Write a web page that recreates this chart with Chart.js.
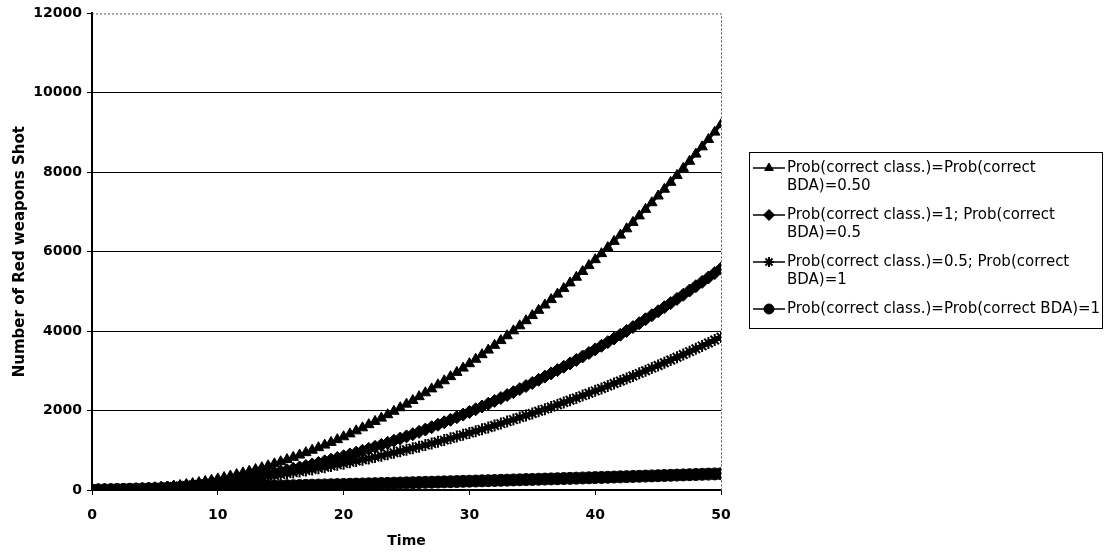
<!DOCTYPE html>
<html>
<head>
<meta charset="utf-8">
<title>Number of Red weapons Shot</title>
<script src="https://cdn.jsdelivr.net/npm/chart.js"></script>
<style>
  body { margin: 0; background: #fff; }
  canvas { display: block; }
</style>
</head>
<body>
<canvas id="chart" width="1115" height="554"></canvas>
<script>
// time steps (0.5 apart)
var times = [0,0.5,1,1.5,2,2.5,3,3.5,4,4.5,5,5.5,6,6.5,7,7.5,8,8.5,9,9.5,
  10,10.5,11,11.5,12,12.5,13,13.5,14,14.5,15,15.5,16,16.5,17,17.5,18,18.5,19,19.5,
  20,20.5,21,21.5,22,22.5,23,23.5,24,24.5,25,25.5,26,26.5,27,27.5,28,28.5,29,29.5,
  30,30.5,31,31.5,32,32.5,33,33.5,34,34.5,35,35.5,36,36.5,37,37.5,38,38.5,39,39.5,
  40,40.5,41,41.5,42,42.5,43,43.5,44,44.5,45,45.5,46,46.5,47,47.5,48,48.5,49,49.5,50];

// Prob(correct class.)=Prob(correct BDA)=0.50
var shotsHalfHalf = [0,1,2,3,4,5,6,9,18,30,43,57,74,93,114,137,162,188,217,247,
  280,314,351,389,430,472,516,562,610,660,712,766,822,880,940,1002,1066,1131,1199,1268,
  1340,1413,1489,1566,1646,1727,1810,1895,1982,2071,2162,2255,2350,2447,2546,2647,2750,2854,2961,3069,
  3180,3292,3407,3523,3642,3762,3884,4008,4134,4262,4392,4524,4658,4794,4932,5072,5214,5357,5503,5650,
  5800,5951,6105,6260,6418,6577,6738,6901,7066,7233,7402,7573,7746,7921,8098,8277,8458,8640,8825,9011,9200];

// Prob(correct class.)=1; Prob(correct BDA)=0.5
var shotsClass1 = [0,0,0,0,2,6,10,16,23,31,40,50,62,74,88,103,119,136,155,174,
  195,217,240,264,289,316,343,372,402,433,465,498,533,568,605,643,682,722,764,806,
  850,895,941,988,1036,1086,1136,1188,1241,1295,1350,1406,1464,1522,1582,1643,1705,1768,1833,1898,
  1965,2033,2102,2172,2243,2316,2389,2464,2540,2617,2695,2774,2855,2936,3019,3103,3188,3274,3362,3450,
  3540,3631,3723,3816,3910,4006,4102,4200,4299,4399,4500,4602,4706,4810,4916,5023,5131,5240,5351,5462,5575];

// Prob(correct class.)=0.5; Prob(correct BDA)=1
var shotsBda1 = [0,2,5,9,14,19,25,32,39,48,56,66,77,88,100,112,125,139,154,170,
  186,203,221,239,258,278,299,320,342,365,388,413,438,463,490,517,545,574,603,633,
  664,696,728,761,795,829,864,900,937,974,1012,1051,1091,1131,1172,1214,1257,1300,1344,1389,
  1434,1480,1527,1575,1623,1672,1722,1772,1824,1876,1928,1982,2036,2091,2147,2203,2260,2318,2377,2436,
  2496,2557,2618,2680,2743,2807,2872,2937,3003,3069,3136,3205,3273,3343,3413,3484,3556,3628,3701,3775,3850];

// Prob(correct class.)=Prob(correct BDA)=1
var shotsPerfect = [0,3,6,9,13,16,19,22,25,29,32,35,39,42,45,49,52,56,59,63,
  66,70,73,77,80,84,87,91,95,98,102,106,109,113,117,121,125,128,132,136,
  140,144,148,152,156,160,164,168,172,176,180,184,188,192,197,201,205,209,213,218,
  222,226,231,235,239,244,248,253,257,262,266,271,275,280,284,289,293,298,303,307,
  312,317,321,326,331,336,341,345,350,355,360,365,370,375,380,385,390,395,400,405,410];

var legendLines = [
  ['Prob(correct class.)=Prob(correct', 'BDA)=0.50'],
  ['Prob(correct class.)=1; Prob(correct', 'BDA)=0.5'],
  ['Prob(correct class.)=0.5; Prob(correct', 'BDA)=1'],
  ['Prob(correct class.)=Prob(correct BDA)=1']
];

function pts(vals) {
  return vals.map(function (v, i) { return { x: times[i], y: v }; });
}

function series(i, vals, style, radius, order) {
  return {
    label: legendLines[i].join(' '),
    data: pts(vals),
    borderColor: '#000',
    backgroundColor: '#000',
    borderWidth: 2.5,
    pointStyle: style,
    pointRadius: radius,
    pointBorderWidth: style === 'star' ? 2 : 1,
    pointBorderColor: '#000',
    pointBackgroundColor: '#000',
    tension: 0,
    order: order
  };
}

// dotted plot area frame (top and right)
var plotFrame = {
  id: 'plotFrame',
  beforeDatasetsDraw: function (chart) {
    var a = chart.chartArea, ctx = chart.ctx;
    ctx.save();
    ctx.strokeStyle = '#555';
    ctx.lineWidth = 1;
    ctx.setLineDash([2, 2]);
    ctx.beginPath();
    ctx.moveTo(a.left, a.top + 0.5);
    ctx.lineTo(a.right + 0.5, a.top + 0.5);
    ctx.lineTo(a.right + 0.5, a.bottom);
    ctx.stroke();
    ctx.restore();
  }
};

// boxed legend on the right, labels on two lines
var sideLegend = {
  id: 'sideLegend',
  afterDraw: function (chart) {
    var ctx = chart.ctx;
    ctx.save();
    ctx.strokeStyle = '#000';
    ctx.lineWidth = 1;
    ctx.strokeRect(749.5, 152.5, 353, 176);
    ctx.font = '15px "DejaVu Sans"';
    ctx.textBaseline = 'middle';
    ctx.fillStyle = '#000';
    var y = 168;
    chart.data.datasets.forEach(function (ds, i) {
      ctx.lineWidth = 1.5;
      ctx.beginPath();
      ctx.moveTo(753, y);
      ctx.lineTo(785, y);
      ctx.stroke();
      ctx.lineWidth = ds.pointBorderWidth;
      Chart.helpers.drawPoint(ctx, {
        pointStyle: ds.pointStyle, rotation: 0,
        radius: ds.pointRadius - 1, borderWidth: ds.pointBorderWidth
      }, 769, y);
      legendLines[i].forEach(function (t, j) {
        ctx.fillText(t, 787, y + j * 18.5);
      });
      y += 47;
    });
    ctx.restore();
  }
};

new Chart(document.getElementById('chart'), {
  type: 'line',
  data: {
    datasets: [
      series(0, shotsHalfHalf, 'triangle', 6, 4),
      series(1, shotsClass1, 'rectRot', 6.5, 3),
      series(2, shotsBda1, 'star', 6, 2),
      series(3, shotsPerfect, 'circle', 6, 1)
    ]
  },
  options: {
    responsive: false,
    animation: false,
    devicePixelRatio: 1,
    layout: { padding: { top: 12, right: 394, left: 0, bottom: 0 } },
    plugins: {
      legend: { display: false },
      tooltip: { enabled: false }
    },
    scales: {
      x: {
        type: 'linear',
        min: 0,
        max: 50,
        afterFit: function (s) { s.height = 64; },
        border: { color: '#000', width: 1.5 },
        grid: { drawOnChartArea: false, tickLength: 5, color: '#000' },
        ticks: {
          stepSize: 10,
          padding: 12,
          color: '#000',
          maxRotation: 0,
          font: { family: 'DejaVu Sans', size: 14, weight: 'bold' }
        },
        title: {
          display: true,
          text: 'Time',
          color: '#000',
          padding: { top: 0, bottom: 4 },
          font: { family: 'DejaVu Sans', size: 14, weight: 'bold' }
        }
      },
      y: {
        min: 0,
        max: 12000,
        afterFit: function (s) { s.width = 92; },
        border: { color: '#000', width: 2 },
        grid: {
          tickLength: 5,
          lineWidth: 1,
          tickColor: '#000',
          color: function (c) { return c.tick && c.tick.value === 12000 ? 'rgba(0,0,0,0)' : '#000'; }
        },
        ticks: {
          stepSize: 2000,
          padding: 5,
          color: '#000',
          callback: function (v) { return String(v); },
          font: { family: 'DejaVu Sans', size: 14, weight: 'bold' }
        },
        title: {
          display: true,
          text: 'Number of Red weapons Shot',
          color: '#000',
          padding: { top: 11, bottom: 0 },
          font: { family: 'DejaVu Sans', size: 15, weight: 'bold' }
        }
      }
    }
  },
  plugins: [plotFrame, sideLegend]
});
</script>
</body>
</html>
